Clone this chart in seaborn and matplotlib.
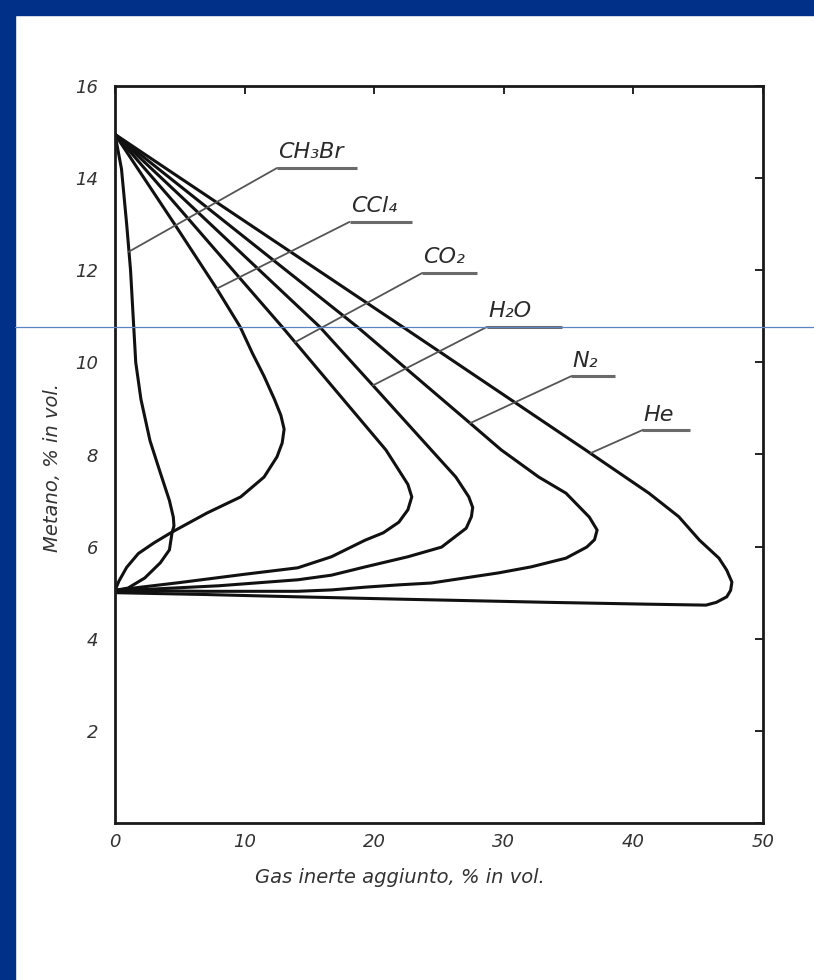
import matplotlib
matplotlib.use("Agg")
import matplotlib.pyplot as plt
from matplotlib.lines import Line2D
from matplotlib.patches import Rectangle
import seaborn as sns

# limiti di infiammabilita' del metano con gas inerti
ch3br_x = [0, 0.5, 0.9, 1.2, 1.4, 1.6, 2.0, 2.7, 3.5, 4.2, 4.5, 4.55, 4.4, 4.2, 3.5, 2.3, 1.0, 0]
ch3br_y = [14.95, 14.2, 13.0, 12.0, 11.0, 10.0, 9.2, 8.3, 7.6, 7.0, 6.64, 6.45, 6.3, 5.93, 5.65, 5.32, 5.10, 5.05]

ccl4_x = [0, 4.6, 7.85, 9.66, 10.6, 11.5, 12.3, 12.8, 13.05, 12.9, 12.5, 11.5, 9.7, 7.1, 5.6, 4.3, 3.0, 1.8, 0.9, 0.3, 0]
ccl4_y = [14.95, 13.0, 11.6, 10.77, 10.2, 9.7, 9.2, 8.85, 8.55, 8.25, 7.95, 7.51, 7.08, 6.73, 6.5, 6.3, 6.08, 5.85, 5.55, 5.25, 5.05]

co2_x = [0, 12.9, 17.6, 20.9, 21.9, 22.6, 22.9, 22.6, 21.9, 20.7, 19.3, 16.7, 14.1, 10.0, 5.0, 2.0, 0]
co2_y = [14.95, 10.77, 9.2, 8.10, 7.66, 7.35, 7.08, 6.80, 6.53, 6.30, 6.14, 5.78, 5.54, 5.40, 5.22, 5.12, 5.05]

h2o_x = [0, 15.8, 19.9, 24.4, 26.3, 27.3, 27.6, 27.5, 27.1, 25.2, 22.6, 19.3, 16.7, 14.1, 8.0, 3.0, 0]
h2o_y = [14.95, 10.77, 9.5, 8.10, 7.51, 7.08, 6.85, 6.65, 6.40, 5.99, 5.78, 5.56, 5.38, 5.28, 5.15, 5.08, 5.05]

n2_x = [0, 18.7, 27.4, 29.8, 32.7, 34.8, 36.6, 37.2, 37.0, 36.4, 34.8, 32.1, 29.6, 27.0, 24.4, 21.9, 19.3, 16.7, 14.1, 7.0, 0]
n2_y = [14.95, 10.77, 8.68, 8.10, 7.51, 7.16, 6.64, 6.36, 6.15, 5.99, 5.75, 5.56, 5.43, 5.32, 5.21, 5.17, 5.12, 5.06, 5.03, 5.03, 5.05]

he_x = [0, 22.2, 36.3, 41.2, 43.5, 45.1, 46.6, 47.2, 47.6, 47.5, 47.2, 46.4, 45.6, 41.2, 33.5, 21.9, 14.1, 7.0, 0]
he_y = [14.95, 10.77, 8.10, 7.16, 6.65, 6.14, 5.75, 5.49, 5.23, 5.05, 4.91, 4.79, 4.73, 4.75, 4.79, 4.86, 4.91, 4.96, 5.0]

gas_names = ["CH₃Br", "CCl₄", "CO₂", "H₂O", "N₂", "He"]
curves = [(ch3br_x, ch3br_y), (ccl4_x, ccl4_y), (co2_x, co2_y),
          (h2o_x, h2o_y), (n2_x, n2_y), (he_x, he_y)]

x_ticks = [0, 10, 20, 30, 40, 50]
y_ticks = [0, 2, 4, 6, 8, 10, 12, 14, 16]
y_ticklabels = ["", "2", "4", "6", "8", "10", "12", "14", "16"]

# etichette: (inizio sottolineatura x, fine x, y) e punto sulla curva
label_pos = {
    "CH₃Br": (12.5, 18.7, 14.22, 1.05, 12.4),
    "CCl₄": (18.1, 22.9, 13.05, 7.85, 11.6),
    "CO₂": (23.7, 27.9, 11.94, 13.9, 10.44),
    "H₂O": (28.7, 34.5, 10.77, 19.9, 9.5),
    "N₂": (35.2, 38.6, 9.70, 27.4, 8.68),
    "He": (40.7, 44.4, 8.53, 36.7, 8.03),
}

sns.set_theme(style="white")
plt.rcParams["font.family"] = ["DejaVu Sans"]

fig = plt.figure(figsize=(8.14, 9.8), dpi=100)
fig.patch.set_facecolor("white")
ax = fig.add_axes([115 / 814, 157 / 980, 648 / 814, 737 / 980])

for (cx, cy) in curves:
    sns.lineplot(x=cx, y=cy, sort=False, estimator=None, color="#111111",
                 linewidth=2.2, ax=ax)

for name in gas_names:
    x0, x1, yl, xe, ye = label_pos[name]
    ax.plot([x0, x1], [yl, yl], color="#6a6a6a", lw=2.2, solid_capstyle="butt")
    ax.plot([x0, xe], [yl, ye], color="#555555", lw=1.3)
    ax.text(x0 + 0.1, yl + 0.12, name, fontsize=16, style="italic",
            color="#2a2a2a", ha="left", va="bottom")

ax.set_xlim(0, 50)
ax.set_ylim(0, 16)
ax.set_xticks(x_ticks)
ax.set_xticklabels([str(t) for t in x_ticks])
ax.set_yticks(y_ticks)
ax.set_yticklabels(y_ticklabels)
ax.tick_params(direction="in", length=6, width=1.4, colors="#222222",
               top=True, right=True, labelsize=13, labelcolor="#333333")
ax.tick_params(axis="y", pad=12)
ax.tick_params(axis="x", pad=7)
for lab in ax.get_xticklabels() + ax.get_yticklabels():
    lab.set_style("italic")
for sp in ax.spines.values():
    sp.set_visible(True)
    sp.set_color("#1a1a1a")
    sp.set_linewidth(2.0)

ax.set_xlabel("Gas inerte aggiunto, % in vol.", fontsize=14, style="italic",
              color="#333333")
ax.set_ylabel("Metano, % in vol.", fontsize=14, style="italic", color="#333333")
ax.xaxis.set_label_coords((400 - 115) / 648, -0.061)
ax.yaxis.set_label_coords((62 - 115) / 648, 0.483)

# cornice blu della diapositiva
fig.add_artist(Rectangle((0, 0), 15 / 814, 1, transform=fig.transFigure,
                         color="#003087", zorder=10))
fig.add_artist(Rectangle((0, 1 - 15 / 980), 1, 15 / 980, transform=fig.transFigure,
                         color="#003087", zorder=10))
fig.add_artist(Line2D([15 / 814, 1], [1 - 327 / 980, 1 - 327 / 980],
                      transform=fig.transFigure, color="#5b84c8", lw=0.9, zorder=11))

fig.savefig("out.png", dpi=100)
